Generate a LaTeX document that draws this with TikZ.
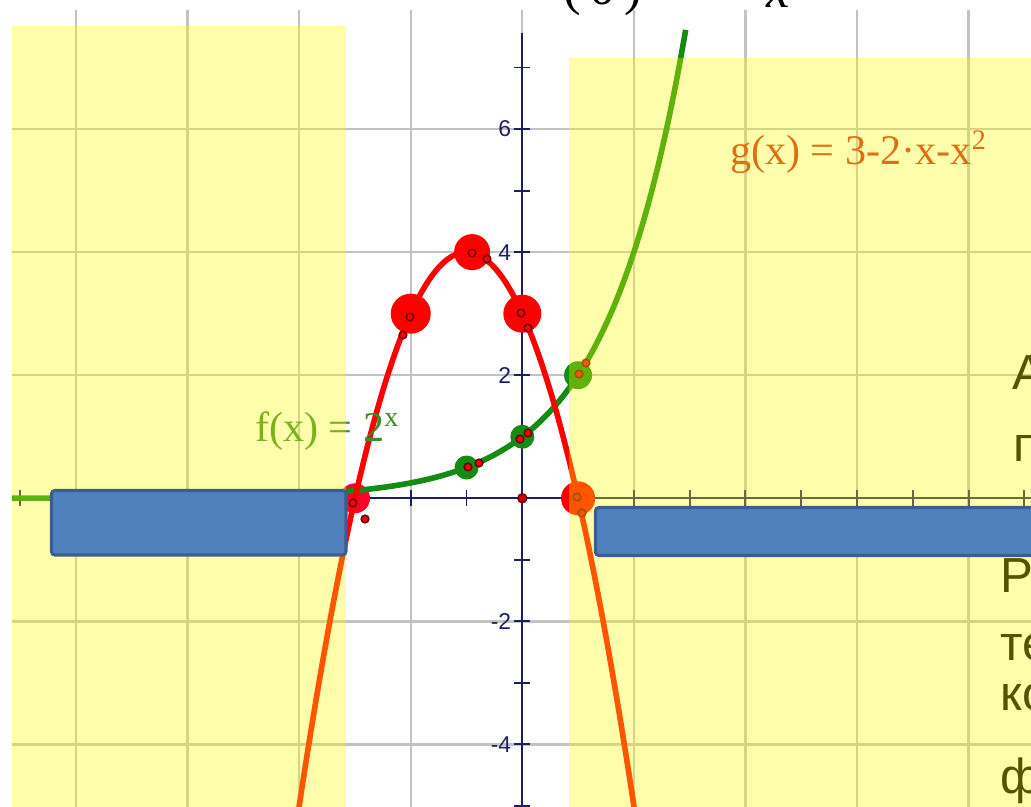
\documentclass[tikz,border=0pt]{standalone}
\usepackage{fontspec}
\setmainfont{Liberation Serif}
\setsansfont{Liberation Sans}
\usepackage{tikz}
\usepackage{xcolor}
\usetikzlibrary{positioning}
\definecolor{Grid_Grey}{HTML}{C2C2C2}
\definecolor{Axis_Navy}{HTML}{1E1E66}
\definecolor{Curve_Red}{HTML}{FF0000}
\definecolor{Curve_Green}{HTML}{148C14}
\definecolor{Label_Green}{HTML}{3C8C28}
\definecolor{Label_Red}{HTML}{D2281E}
\definecolor{Point_Edge}{HTML}{700000}
\definecolor{Hint_Yellow}{HTML}{FFFF00}
\definecolor{Box_Blue}{HTML}{4F81BD}
\definecolor{Box_Edge}{HTML}{3B5E8C}

\begin{document}
\begin{tikzpicture}[x=0.01cm, y=-0.01cm, every node/.style={inner sep=0pt, outer sep=0pt},
  coverbox/.style={fill=Box_Blue, draw=Box_Edge, line width=0.9pt, rounded corners=1pt}]
  \useasboundingbox (0,0) rectangle (1031,807);
  \clip (0,0) rectangle (1031,807);
  % Title fragment above the plot
  \node[anchor=base, font=\fontsize{15}{18}\selectfont] (titleparen) at (603,5) {(\,0\,)};
  \node[anchor=base, font=\fontsize{15}{18}\selectfont\itshape] (titlevar) at (778,8) {x};
  % Plot area (graph units)
  \begin{scope}[shift={(5.22cm,-4.98cm)}, x=0.5575cm, y=0.615cm]
    % Grid
    \foreach \gx in {-8,-6,...,8}
      \draw[Grid_Grey, line width=0.65pt] (\gx,-5.2) -- (\gx,7.93);
    \foreach \gy in {-4,-2,...,6}
      \draw[Grid_Grey, line width=0.65pt] (-9.15,\gy) -- (9.3,\gy);
    % Axes and ticks
    \draw[Axis_Navy, line width=0.65pt] (-9.15,0) -- (9.3,0);
    \draw[Axis_Navy, line width=0.65pt] (0,-5.2) -- (0,7.56);
    \foreach \tx in {-9,...,9}
      \draw[Axis_Navy, line width=0.55pt] (\tx,-0.13) -- (\tx,0.13);
    \foreach \ty in {-5,...,7}
      \draw[Axis_Navy, line width=0.55pt] (-0.145,\ty) -- (0.145,\ty);
    % Tick labels
    \foreach \ty in {-4,-2,2,4,6}
      \node[Axis_Navy, anchor=east, font=\sffamily\fontsize{6.5}{7}\selectfont] (ylab\ty) at (-0.2,\ty) {\ty};
    % Marked points
    \foreach \px/\py/\pr in {-2/3/0.20, -0.9/4/0.18, 0/3/0.19, 1/0/0.17}
      \fill[Curve_Red] (\px,\py) circle (\pr cm);
    \fill[Curve_Red!85!magenta] (-3,0) circle (0.15cm);
    \foreach \px/\py/\pr in {1/2/0.14, 0/1/0.12, -1/0.5/0.12}
      \fill[Curve_Green] (\px,\py) circle (\pr cm);
    % f(x) = 2^x and g(x) = 3-2x-x^2
    \draw[Curve_Green, line width=1.6pt] plot[domain=-9.15:2.93, samples=120, smooth] (\x, {exp(\x*ln(2))});
    \draw[Curve_Red, line width=1.6pt] plot[domain=-4.05:2.05, samples=100, smooth] (\x, {3-2*(\x)-(\x)*(\x)});
    \filldraw[fill=Curve_Red!80!black, draw=Point_Edge, line width=0.4pt] (0,0) circle (0.045cm);
  \end{scope}
  % Small point handles
  \foreach \hx/\hy in {410/317, 403/335, 472/253, 487/259, 521/313, 528/328, 577/497, 582/513,
                       353/503, 365/519, 579/374, 586/363, 520/439, 528/433, 468/467, 479/463}
    \filldraw[fill=Curve_Red, draw=Point_Edge, line width=0.45pt] (\hx,\hy) circle (0.038cm);
  % Function labels
  \node[Label_Green, anchor=base west, font=\fontsize{12}{14}\selectfont] (flabel) at (255,442) {f(x) = 2\textsuperscript{x}};
  \node[Label_Red, anchor=base west, font=\fontsize{12}{14}\selectfont] (glabel) at (730,165) {g(x) = 3-2·x-x\textsuperscript{2}};
  % Text at the right edge
  \node[anchor=base west, font=\sffamily\fontsize{14}{16}\selectfont] (lineA) at (1012,390) {А};
  \node[anchor=base west, font=\sffamily\fontsize{14}{16}\selectfont] (lineP) at (1013,462) {п};
  \node[anchor=base west, font=\sffamily\fontsize{14}{16}\selectfont] (lineR) at (1000,592) {Р};
  \node[anchor=base west, font=\sffamily\fontsize{14}{16}\selectfont] (lineT) at (1000,660) {те};
  \node[anchor=base west, font=\sffamily\fontsize{14}{16}\selectfont] (lineK) at (1000,710) {ко};
  \node[anchor=base west, font=\sffamily\fontsize{14}{16}\selectfont] (lineF) at (1000,793) {ф};
  % Highlighted intervals
  \fill[Hint_Yellow, opacity=0.33] (12,26) rectangle (346,807);
  \fill[Hint_Yellow, opacity=0.33] (569,58) rectangle (1031,807);
  % Cover boxes
  \draw[coverbox] (51.5,490.5) rectangle (346,555);
  \draw[coverbox] (595.5,507.5) rectangle (1045,555.5);
\end{tikzpicture}
\end{document}
